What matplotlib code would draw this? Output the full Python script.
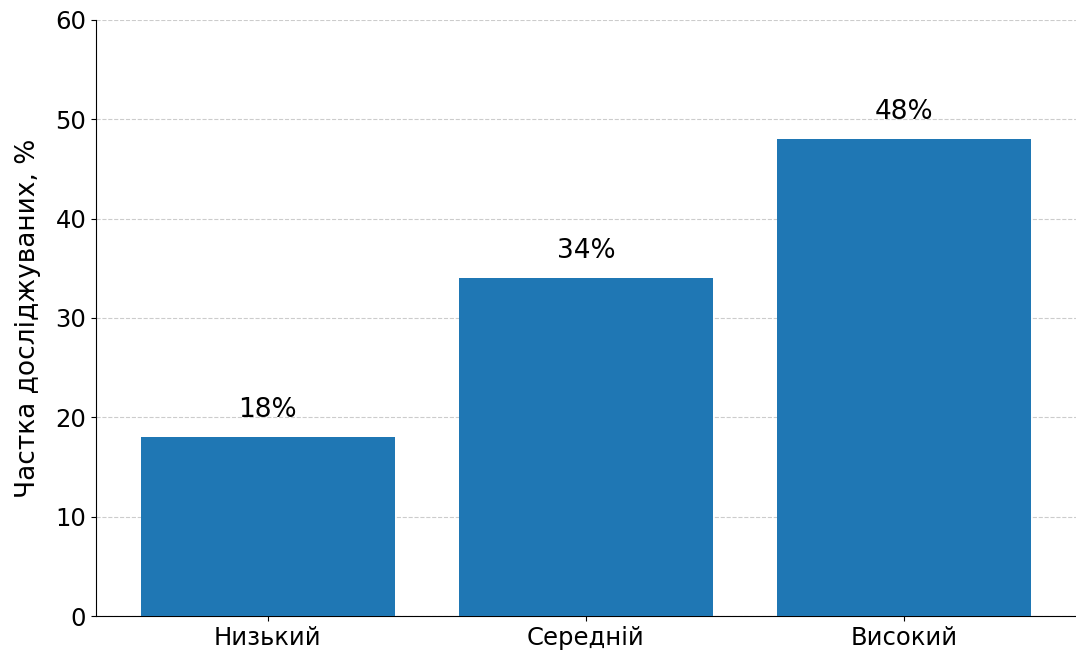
import matplotlib
matplotlib.use('Agg')
import matplotlib.pyplot as plt

categories = ['Низький', 'Середній', 'Високий']
values = [18, 34, 48]

fig, ax = plt.subplots(figsize=(10.76, 6.57), dpi=100)
fig.subplots_adjust(left=0.0892, right=1.0, bottom=0.0624, top=0.9696)

bars = ax.bar(categories, values, color='#1f77b4', width=0.8, zorder=3)
for b, v in zip(bars, values):
    ax.text(b.get_x() + b.get_width() / 2, v + 1.4, f'{v}%',
            ha='center', va='bottom', fontsize=19)

ax.set_ylim(0, 60)
ax.set_ylabel('Частка досліджуваних, %', fontsize=19, labelpad=10)
ax.tick_params(axis='both', labelsize=17.5)
ax.yaxis.grid(True, linestyle='--', color='#cccccc', linewidth=0.8, zorder=0)
ax.spines['top'].set_visible(False)
ax.spines['right'].set_visible(False)

fig.savefig('out.png', dpi=100)
